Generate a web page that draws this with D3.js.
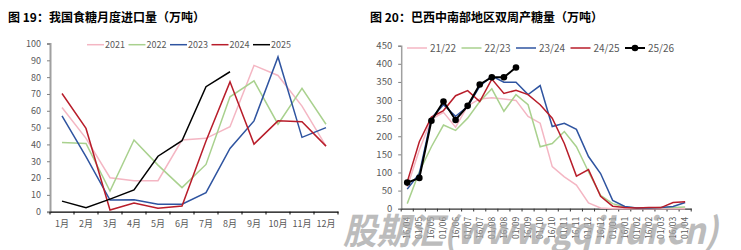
<!DOCTYPE html>
<html><head><meta charset="utf-8">
<script src="https://cdn.jsdelivr.net/npm/d3@7"></script>
<style>body{margin:0;background:#fff}svg{display:block}</style>
</head><body>
<svg id="c" width="741" height="250"></svg>
<script>
// ---- Chart 1 data ----
const months = ["1月","2月","3月","4月","5月","6月","7月","8月","9月","10月","11月","12月"];
const yTicks1 = [0,10,20,30,40,50,60,70,80,90,100];
const imp2021 = [62,43.6,20.2,18.4,18.4,42.6,43.6,50.5,87,81,62.8,39];
const imp2022 = [41.2,40.6,12.3,42.6,27.7,14.3,28.1,68.3,77.8,52,73.3,52];
const imp2023 = [57,32.7,6.9,7.1,4.4,4.4,11.3,37.6,54,92,44.2,50];
const imp2024 = [70.3,49.5,1,5.1,2,3.4,42,77.2,40.2,54,53.5,39];
const imp2025 = [6.3,2.4,7.5,12.9,33,42.2,74.3,83.2];
// ---- Chart 2 data ----
const periods = ["16/04","01/05","16/05","01/06","16/06","01/07","16/07","01/08","16/08","01/09","16/09","01/10","16/10","01/11","16/11","01/12","16/12","01/01","16/01","01/02","16/02","01/03","16/03","01/04"];
const yTicks2 = [0,50,100,150,200,250,300,350,400,450];
const s2122 = [60,162,247,266,225,284,303,306,303,299,255,236,116,88,65,16,2,0,0,0,0,0,0,0];
const s2223 = [14,102,171,231,216,250,296,331,269,315,287,171,180,213,171,102,37,14,5,2,2,3,3,5];
const s2324 = [54,97,250,287,255,282,338,366,349,349,315,340,227,236,219,144,97,23,6,2,2,3,6,17];
const s2425 = [74,185,253,271,312,326,296,358,318,327,315,287,250,180,90,108,34,7,3,2,3,3,17,19];
const s2526 = [72,85,243,296,245,284,343,363,363,390];

const svg = d3.select("#c");
const font = "'Noto Sans CJK SC','Noto Sans',sans-serif";
const grayTxt = "#595959";

// titles
svg.append("text").attr("x",8).attr("y",22).attr("font-family",font).attr("font-weight","bold")
  .attr("font-size",12).attr("fill","#000").text("图 19：我国食糖月度进口量（万吨）");
svg.append("text").attr("x",370).attr("y",22).attr("font-family",font).attr("font-weight","bold")
  .attr("font-size",12).attr("fill","#000").text("图 20：巴西中南部地区双周产糖量（万吨）");

// ===== Chart 1 =====
const x1 = d3.scaleBand().domain(months).range([50,338]);
const y1 = d3.scaleLinear().domain([0,100]).range([211.7,43.5]);
const g1 = svg.append("g");
// y axis
const ya1 = g1.append("g").attr("transform","translate(50,0)")
  .call(d3.axisLeft(y1).tickValues(yTicks1).tickSize(3).tickPadding(6));
ya1.select(".domain").attr("stroke","#a0a0a0").attr("stroke-width",2);
ya1.selectAll(".tick line").attr("stroke","#808080");
ya1.selectAll("text").attr("font-family",font).attr("font-size",9).attr("fill",grayTxt);
// x axis
const xa1 = g1.append("g").attr("transform","translate(0,211.7)")
  .call(d3.axisBottom(x1).tickSize(0).tickPadding(9));
xa1.select(".domain").attr("stroke","#000").attr("stroke-width",1.2);
xa1.selectAll("text").attr("font-family",font).attr("font-size",9).attr("fill",grayTxt);
g1.selectAll(".xt1").data(d3.range(months.length+1)).enter().append("line")
  .attr("x1",i=>50+i*x1.step()).attr("x2",i=>50+i*x1.step())
  .attr("y1",211.7).attr("y2",214.5).attr("stroke","#000");

const ser1 = [
  {name:"2021",v:imp2021,c:"#f4b6c3"},
  {name:"2022",v:imp2022,c:"#a9d18e"},
  {name:"2023",v:imp2023,c:"#2f54a0"},
  {name:"2024",v:imp2024,c:"#b81d2a"},
  {name:"2025",v:imp2025,c:"#000000"}
];
const line1 = d3.line().x((d,i)=>x1(months[i])+x1.bandwidth()/2).y(d=>y1(d));
ser1.forEach(s=>{
  g1.append("path").attr("d",line1(s.v)).attr("fill","none").attr("stroke",s.c).attr("stroke-width",1.5);
});
// legend 1
ser1.forEach((s,i)=>{
  const lx = 87 + i*41.5;
  g1.append("line").attr("x1",lx).attr("x2",lx+17).attr("y1",44.7).attr("y2",44.7).attr("stroke",s.c).attr("stroke-width",1.5);
  g1.append("text").attr("x",lx+18).attr("y",48).attr("font-family",font).attr("font-size",9).attr("fill",grayTxt).text(s.name);
});

// ===== Chart 2 =====
const x2 = d3.scaleBand().domain(periods).range([401.2,691.2]);
const y2 = d3.scaleLinear().domain([0,450]).range([208.7,45.7]);
const g2 = svg.append("g");
const ya2 = g2.append("g").attr("transform","translate(401.2,0)")
  .call(d3.axisLeft(y2).tickValues(yTicks2).tickSize(3).tickPadding(6));
ya2.select(".domain").attr("stroke","#a0a0a0").attr("stroke-width",1.5);
ya2.selectAll(".tick line").attr("stroke","#808080");
ya2.selectAll("text").attr("font-family",font).attr("font-size",9.5).attr("fill",grayTxt);
const xa2 = g2.append("g").attr("transform","translate(0,208.7)")
  .call(d3.axisBottom(x2).tickSize(0).tickPadding(4));
xa2.select(".domain").attr("stroke","#333").attr("stroke-width",1.2);
xa2.selectAll("text").attr("font-family",font).attr("font-size",8.5).attr("fill",grayTxt)
  .attr("text-anchor","end").attr("dy","0.35em").attr("transform","translate(0,8) rotate(-90)").attr("x",0).attr("y",0);
g2.selectAll(".xt2").data(d3.range(periods.length+1)).enter().append("line")
  .attr("x1",i=>401.2+i*x2.step()).attr("x2",i=>401.2+i*x2.step())
  .attr("y1",208.7).attr("y2",211.5).attr("stroke","#333");

const ser2 = [
  {name:"21/22",v:s2122,c:"#f4b6c3"},
  {name:"22/23",v:s2223,c:"#a9d18e"},
  {name:"23/24",v:s2324,c:"#2f54a0"},
  {name:"24/25",v:s2425,c:"#b81d2a"},
  {name:"25/26",v:s2526,c:"#000000",m:true}
];
const line2 = d3.line().x((d,i)=>x2(periods[i])+x2.bandwidth()/2).y(d=>y2(d));
ser2.forEach(s=>{
  g2.append("path").attr("d",line2(s.v)).attr("fill","none").attr("stroke",s.c).attr("stroke-width",s.m?2:1.5);
  if(s.m){
    g2.selectAll(".mk").data(s.v).enter().append("circle")
      .attr("cx",(d,i)=>x2(periods[i])+x2.bandwidth()/2).attr("cy",d=>y2(d)).attr("r",3.3).attr("fill","#000");
  }
});
ser2.forEach((s,i)=>{
  const lx = 407 + i*54.5;
  g2.append("line").attr("x1",lx).attr("x2",lx+20).attr("y1",48).attr("y2",48).attr("stroke",s.c).attr("stroke-width",s.m?2:1.5);
  if(s.m) g2.append("circle").attr("cx",lx+10).attr("cy",48).attr("r",3.3).attr("fill","#000");
  g2.append("text").attr("x",lx+23).attr("y",51.5).attr("font-family",font).attr("font-size",10).attr("fill",grayTxt).text(s.name);
});

// watermark
svg.append("text").attr("x",343).attr("y",244).attr("font-family",font).attr("font-weight","bold")
  .attr("font-style","italic").attr("font-size",36).attr("fill","#a6a6a6").attr("opacity",0.75)
  .attr("textLength",375).attr("lengthAdjust","spacingAndGlyphs")
  .text("股期汇(www.gqihui.cn)");
</script>
</body></html>
